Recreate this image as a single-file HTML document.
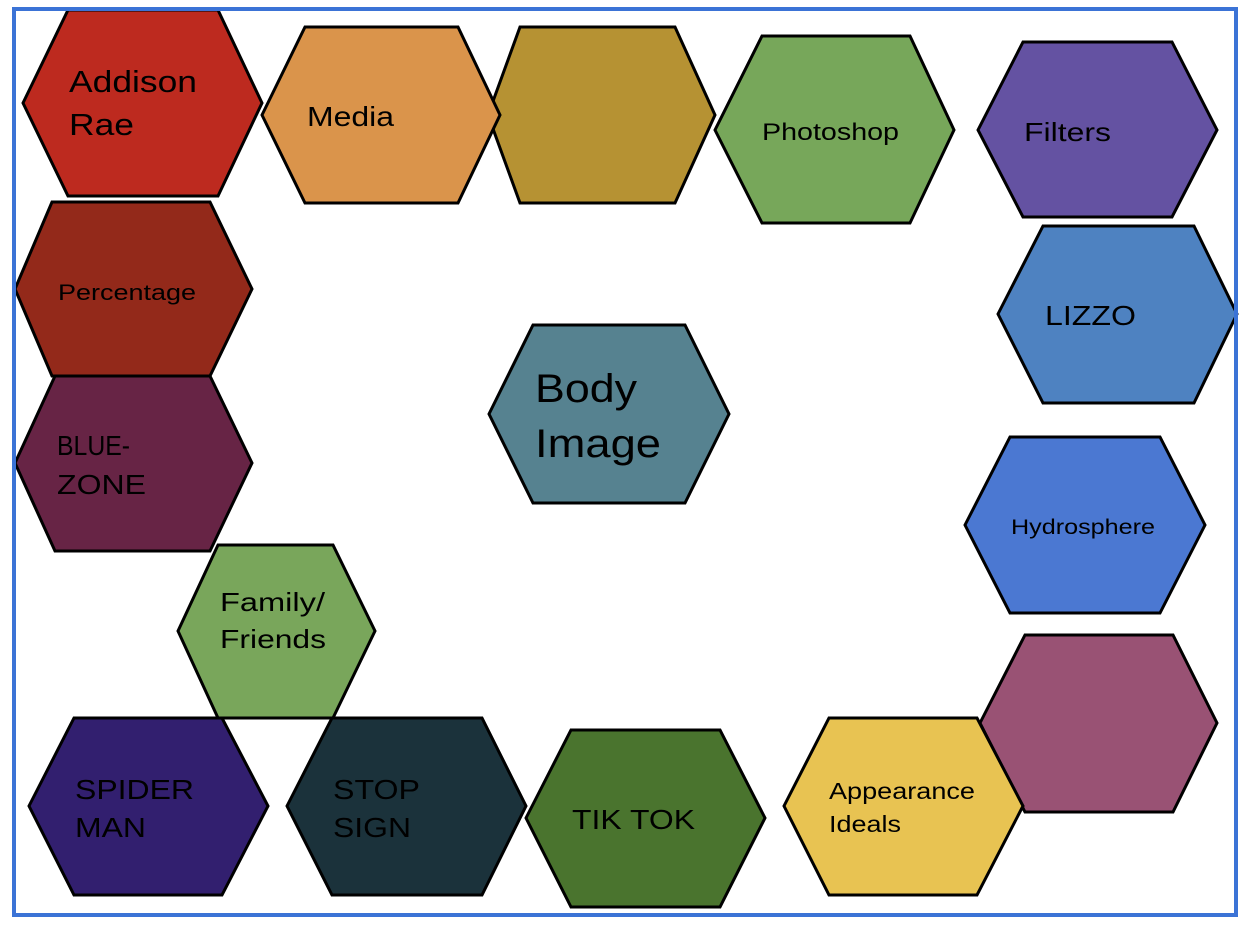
<!DOCTYPE html>
<html><head><meta charset="utf-8"><style>
html,body{margin:0;padding:0;background:#fff;}
svg{display:block;}
text{font-family:"Liberation Sans",Arial,sans-serif;fill:#000;}
</style></head><body>
<svg width="1250" height="926" viewBox="0 0 1250 926" xmlns="http://www.w3.org/2000/svg">
<rect x="0" y="0" width="1250" height="926" fill="#fff"/>
<g stroke="#000" stroke-width="3" stroke-linejoin="miter">
<polygon points="488,115 520,27 675,27 715,115 675,203 520,203" fill="#b69233"/>
<polygon points="23,103 68,10 218,10 262,103 218,196 68,196" fill="#bd2a1f"/>
<polygon points="262,115 305,27 458,27 500,115 458,203 305,203" fill="#da944b"/>
<polygon points="715,130 762,36 910,36 954,130 910,223 762,223" fill="#77a75a"/>
<polygon points="978,130 1023,42 1172,42 1217,130 1172,217 1023,217" fill="#6452a2"/>
<polygon points="998,314 1043,226 1194,226 1237,314 1194,403 1043,403" fill="#4e82c1"/>
<polygon points="965,525 1010,437 1160,437 1205,525 1160,613 1010,613" fill="#4b78d2"/>
<polygon points="980,723 1025,635 1173,635 1217,723 1173,812 1025,812" fill="#995274"/>
<polygon points="784,806 829,718 977,718 1023,806 977,895 829,895" fill="#e8c352"/>
<polygon points="526,818 571,730 720,730 765,818 720,907 571,907" fill="#4a742e"/>
<polygon points="287,806 332,718 482,718 526,806 482,895 332,895" fill="#1b323b"/>
<polygon points="29,806 74,718 222,718 268,806 222,895 74,895" fill="#321f6f"/>
<polygon points="178,631 218,545 333,545 375,631 333,718 218,718" fill="#79a65b"/>
<polygon points="15,463 55,376 210,376 252,463 210,551 55,551" fill="#672445"/>
<polygon points="15,289 52,202 210,202 252,289 210,376 52,376" fill="#93291a"/>
<polygon points="489,414 533,325 685,325 729,414 685,503 533,503" fill="#568290"/>
</g>
<rect x="14" y="9" width="1222" height="906" fill="none" stroke="#3b73d6" stroke-width="4"/>
<g lengthAdjust="spacingAndGlyphs">
<text x="69" y="92" font-size="31" textLength="128" lengthAdjust="spacingAndGlyphs">Addison</text>
<text x="69" y="135" font-size="31" textLength="65" lengthAdjust="spacingAndGlyphs">Rae</text>
<text x="307" y="126" font-size="28" textLength="87" lengthAdjust="spacingAndGlyphs">Media</text>
<text x="762" y="140" font-size="24" textLength="137" lengthAdjust="spacingAndGlyphs">Photoshop</text>
<text x="1024" y="141" font-size="26" textLength="87" lengthAdjust="spacingAndGlyphs">Filters</text>
<text x="1045" y="325" font-size="28" textLength="91" lengthAdjust="spacingAndGlyphs">LIZZO</text>
<text x="1011" y="534" font-size="21" textLength="144" lengthAdjust="spacingAndGlyphs">Hydrosphere</text>
<text x="829" y="799" font-size="23" textLength="146" lengthAdjust="spacingAndGlyphs">Appearance</text>
<text x="829" y="832" font-size="23" textLength="72" lengthAdjust="spacingAndGlyphs">Ideals</text>
<text x="572" y="829" font-size="28" textLength="123" lengthAdjust="spacingAndGlyphs">TIK TOK</text>
<text x="333" y="799" font-size="28" textLength="87" lengthAdjust="spacingAndGlyphs">STOP</text>
<text x="333" y="837" font-size="28" textLength="78" lengthAdjust="spacingAndGlyphs">SIGN</text>
<text x="75" y="799" font-size="28" textLength="119" lengthAdjust="spacingAndGlyphs">SPIDER</text>
<text x="75" y="837" font-size="28" textLength="71" lengthAdjust="spacingAndGlyphs">MAN</text>
<text x="220" y="611" font-size="26" textLength="105" lengthAdjust="spacingAndGlyphs">Family/</text>
<text x="220" y="648" font-size="26" textLength="106" lengthAdjust="spacingAndGlyphs">Friends</text>
<text x="57" y="455" font-size="28" textLength="73" lengthAdjust="spacingAndGlyphs">BLUE-</text>
<text x="57" y="494" font-size="28" textLength="89" lengthAdjust="spacingAndGlyphs">ZONE</text>
<text x="58" y="300" font-size="22" textLength="138" lengthAdjust="spacingAndGlyphs">Percentage</text>
<text x="535" y="402" font-size="40" textLength="102" lengthAdjust="spacingAndGlyphs">Body</text>
<text x="535" y="457" font-size="40" textLength="126" lengthAdjust="spacingAndGlyphs">Image</text>
</g>
</svg>
</body></html>
